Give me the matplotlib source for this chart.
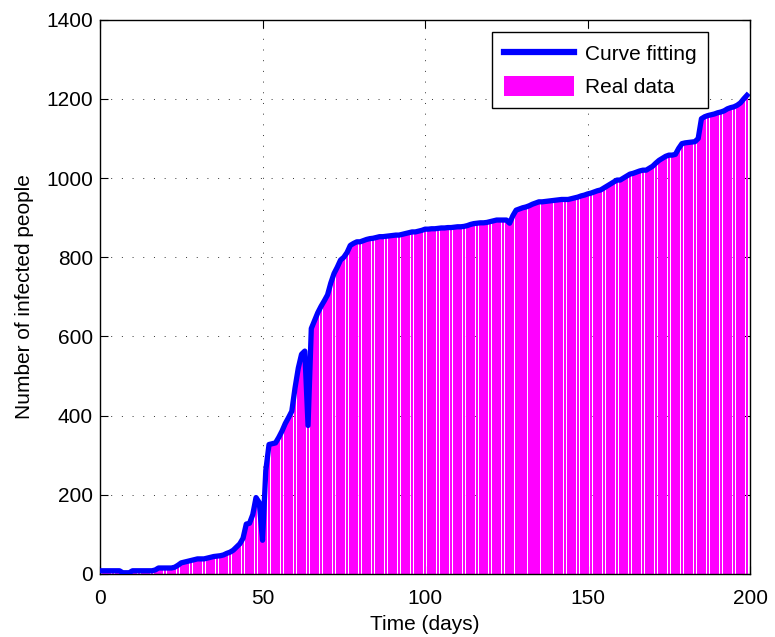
import numpy as np
import matplotlib.pyplot as plt
from matplotlib.lines import Line2D
from matplotlib.patches import Patch

plt.rcParams['font.family'] = ['Liberation Sans', 'DejaVu Sans']

# Daily cumulative count of infected people
days = np.arange(0, 200)
infected = [
    8, 8, 8, 8, 8, 8, 8, 3, 3, 3,
    8, 8, 8, 8, 8, 8, 8, 10, 15, 15,
    15, 15, 15, 17, 22, 28, 30, 32, 34, 36,
    38, 38, 38, 40, 42, 44, 45, 46, 48, 52,
    55, 60, 68, 76, 90, 126, 128, 150, 193, 180,
    85, 261, 327, 329, 331, 345, 361, 380, 395, 411,
    470, 520, 555, 563, 375, 620, 640, 660, 676, 690,
    705, 735, 759, 775, 793, 800, 812, 830, 835, 839,
    839, 842, 845, 847, 848, 850, 852, 852, 853, 854,
    855, 856, 856, 858, 860, 862, 864, 864, 866, 868,
    871, 871, 872, 872, 873, 874, 874, 875, 875, 876,
    877, 877, 878, 880, 883, 885, 886, 887, 887, 888,
    890, 892, 894, 894, 894, 894, 886, 905, 919, 922,
    925, 927, 930, 934, 937, 940, 940, 941, 942, 943,
    944, 945, 946, 946, 946, 948, 950, 952, 955, 957,
    960, 962, 965, 968, 970, 975, 980, 985, 990, 995,
    995, 1000, 1005, 1010, 1012, 1015, 1018, 1020, 1020, 1025,
    1030, 1038, 1045, 1050, 1055, 1058, 1058, 1060, 1075, 1087,
    1089, 1090, 1091, 1092, 1100, 1150, 1155, 1158, 1160, 1162,
    1165, 1167, 1170, 1175, 1178, 1180, 1184, 1190, 1200, 1209,
]

fig = plt.figure(figsize=(7.75, 6.37), dpi=100)
ax = fig.add_axes([0.129, 0.099, 0.839, 0.870])

ax.bar(days, infected, width=0.85, color='#ff00ff', edgecolor='none',
       antialiased=False, zorder=2)
ax.plot(days, infected, color='#0000ff', lw=3.8, solid_joinstyle='round', zorder=3)

ax.set_xlim(0, 200)
ax.set_ylim(0, 1400)
ax.set_xticks(np.arange(0, 201, 50))
ax.set_yticks(np.arange(0, 1401, 200))
ax.tick_params(direction='in', top=True, right=True, labelsize=15, length=6, pad=5)
ax.tick_params(axis='x', pad=11)
ax.grid(True, color='#333333', linestyle=(0, (1, 10)), linewidth=0.7, zorder=0)
ax.set_axisbelow(True)
for s in ax.spines.values():
    s.set_linewidth(1.0)

ax.set_xlabel('Time (days)', fontsize=15, labelpad=5)
ax.set_ylabel('Number of infected people', fontsize=15, labelpad=9)

handles = [Line2D([], [], color='#0000ff', lw=4.5),
           Patch(facecolor='#ff00ff', edgecolor='none')]
leg = ax.legend(handles, ['Curve fitting', 'Real data'], loc='upper right',
                bbox_to_anchor=(0.935, 0.978), borderaxespad=0, fontsize=15,
                fancybox=False, framealpha=1, edgecolor='black',
                handlelength=3.4, handleheight=1.1, borderpad=0.55,
                labelspacing=0.55, handletextpad=0.5)
leg.get_frame().set_linewidth(1.0)

fig.savefig('out.png', dpi=100)
